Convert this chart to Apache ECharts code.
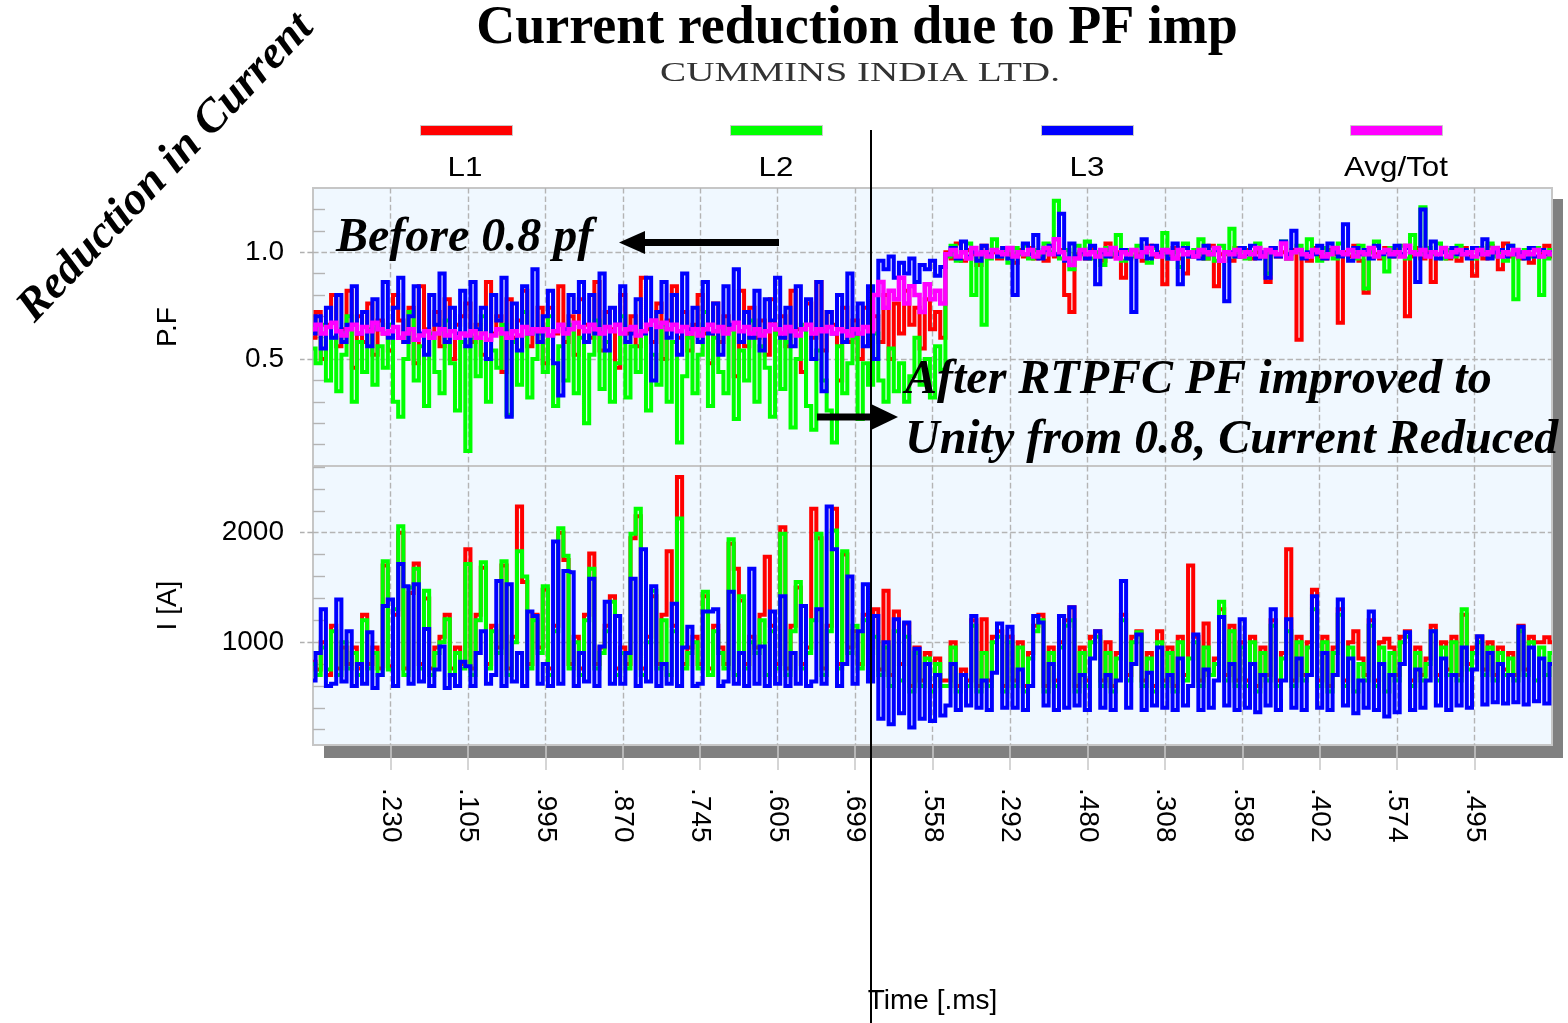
<!DOCTYPE html>
<html><head><meta charset="utf-8">
<script src="https://cdn.jsdelivr.net/npm/echarts@6/dist/echarts.min.js"></script>
<style>html,body{margin:0;padding:0;background:#fff}#c{width:1568px;height:1023px}</style>
</head><body><div id="c"></div>
<script>
const tickLabels = ['.230','.105','.995','.870','.745','.605','.699','.558','.292','.480','.308','.589','.402','.574','.495'];
const tickPos = [1,2,3,4,5,6,7,8,9,10,11,12,13,14,15];
const seriesNames = ['L1','L2','L3','Avg/Tot'];
const seriesColors = ['#ff0000','#00ff00','#0000ff','#ff00ff'];
const pfTicks = [0.5, 1.0];
const pfMinorTicks = [0.1,0.2,0.3,0.4,0.6,0.7,0.8,0.9,1.1,1.2];
const iTicks = [1000, 2000];
const iMinorTicks = [200,400,600,800,1200,1400,1600,1800,2200,2400,2600];

// P.F samples, 15 per time division
const pfL1 = [
.60,.72,.50,.66,.80,.56,.64,.82,.46,.70,.58,.76,.52,.68,.62,
.54,.80,.68,.58,.74,.48,.84,.64,.60,.72,.56,.78,.50,.66,.70,
.76,.58,.66,.52,.86,.62,.70,.44,.78,.60,.68,.82,.56,.64,.74,
.48,.74,.62,.84,.58,.70,.52,.78,.66,.60,.86,.54,.72,.64,.46,
.80,.62,.70,.56,.88,.64,.58,.76,.50,.68,.84,.60,.72,.54,.66,
.80,.62,.48,.76,.58,.70,.64,.42,.82,.56,.74,.60,.68,.52,.78,
.62,.70,.56,.82,.64,.44,.76,.60,.86,.54,.72,.66,.40,.74,.58,
.68,.50,.74,.62,.70,.58,.80,.50,.76,.62,.82,.66,.74,.55,.78,
.64,.72,.60,1.00,.97,1.04,.96,1.01,.99,.94,1.03,.98,1.00,.97,1.02,
.99,.95,1.01,.98,1.02,.97,1.00,.96,1.03,.98,1.01,.80,.72,.99,1.00,
.97,1.02,.99,.96,1.04,.98,1.00,.88,.97,1.01,.99,.96,1.03,.98,1.00,
.85,.99,1.02,.97,.90,1.00,.98,1.01,.97,1.03,.84,.99,1.00,.96,1.02,
.98,1.01,.97,1.00,.99,.86,1.02,.98,1.00,.97,1.01,.59,.99,.96,1.02,
.98,.97,1.01,.99,.67,1.00,.98,1.03,.96,.81,1.00,.99,.97,1.02,.98,
1.01,.99,.70,.98,1.02,.97,1.00,.86,.99,1.01,.97,1.00,.96,1.02,.98,
.89,1.00,.97,1.03,.99,.92,1.04,.98,1.01,.97,1.00,.95,1.02,.99,1.03,
.98];
const pfL2 = [
.55,.48,.66,.40,.60,.35,.52,.70,.30,.58,.44,.64,.38,.56,.46,
.66,.30,.23,.50,.72,.40,.56,.28,.62,.44,.34,.68,.48,.26,.58,
.07,.60,.42,.70,.30,.54,.46,.66,.24,.58,.38,.72,.32,.50,.62,
.44,.70,.28,.56,.40,.66,.34,.60,.20,.52,.68,.36,.58,.30,.48,
.70,.32,.56,.44,.62,.26,.52,.38,.66,.30,.58,.11,.42,.60,.34,
.52,.72,.28,.60,.44,.34,.64,.22,.54,.40,.68,.30,.56,.46,.23,
.62,.36,.58,.18,.50,.66,.28,.17,.54,.40,.26,.11,.56,.34,.48,
.60,.22,.48,.38,.62,.40,.30,.55,.35,.48,.30,.42,.60,.38,.50,
.32,.56,.45,.98,1.03,.96,1.00,1.04,.80,.99,.66,.97,1.06,.98,1.00,
.95,1.02,.99,1.03,.97,1.01,.98,1.04,1.00,1.24,.97,1.01,.92,1.03,.99,
1.05,.97,1.00,.94,1.02,.99,1.08,.96,1.01,.98,1.03,1.00,.95,1.02,.99,
1.09,.97,1.00,.93,1.04,.98,1.01,1.06,.97,1.00,.96,1.03,.99,1.11,.98,
1.02,.97,1.00,1.04,.98,.90,1.01,.99,1.05,.97,1.00,1.03,.98,1.06,.99,
.96,1.02,1.00,.97,1.04,.99,1.01,.97,1.03,.83,1.00,1.05,.98,.91,1.02,
.99,1.03,.97,1.08,1.00,1.21,1.02,.99,1.04,.97,1.01,.98,1.03,.99,1.00,
.97,1.02,.99,1.04,.98,1.00,.96,1.03,.78,1.00,1.01,.98,1.02,.80,.97,
1.01];
const pfL3 = [
.62,.70,.55,.74,.60,.80,.58,.66,.84,.62,.72,.56,.78,.64,.86,
.60,.74,.88,.58,.70,.84,.62,.52,.80,.66,.90,.58,.74,.62,.82,
.56,.86,.64,.74,.50,.80,.68,.88,.23,.76,.54,.84,.62,.92,.58,
.70,.82,.48,.33,.64,.80,.72,.86,.58,.80,.62,.90,.54,.74,.66,
.84,.58,.62,.78,.62,.88,.40,.72,.86,.60,.80,.52,.90,.64,.74,
.58,.86,.62,.76,.52,.84,.66,.92,.58,.72,.60,.82,.54,.78,.68,
.88,.60,.74,.56,.84,.64,.78,.50,.86,.35,.72,.62,.80,.58,.90,
.62,.76,.56,.84,.50,.96,.92,.98,.88,.95,.90,.97,.86,.94,.92,
.96,.89,.93,.99,1.02,.97,1.05,.98,1.00,.96,1.03,.99,1.01,.98,1.02,
.97,.80,1.00,1.04,.99,1.08,.97,1.01,1.03,.99,1.18,.96,1.04,.98,1.00,
.97,1.03,.85,1.00,.98,1.02,.99,1.01,.97,.72,.98,1.06,.97,1.03,.99,
1.01,.97,1.04,.85,1.02,.98,1.00,.97,1.03,.99,1.01,.96,.77,1.00,.98,
1.02,.99,1.03,.97,1.00,.88,1.02,.98,1.05,.99,1.10,1.01,.97,1.00,.99,
1.03,.97,1.04,1.00,.98,1.13,.96,1.02,.99,1.01,.97,1.03,.99,1.00,.98,
1.03,.99,1.02,1.00,.86,1.20,.99,1.05,.97,1.00,.98,1.02,.99,1.01,.97,
1.02,.99,1.06,.97,1.00,1.01,.98,1.03,.99,1.00,.97,1.02,.98,1.01,.99,
1.00];
const pfAvg = [
.64,.66,.62,.65,.67,.63,.61,.64,.66,.62,.65,.63,.67,.64,.62,
.63,.65,.60,.62,.64,.59,.61,.63,.60,.62,.64,.61,.63,.60,.62,
.61,.63,.60,.62,.59,.61,.64,.62,.60,.63,.61,.65,.62,.64,.63,
.64,.61,.63,.66,.62,.64,.67,.65,.63,.66,.64,.62,.65,.63,.66,
.62,.64,.65,.61,.63,.66,.68,.65,.67,.64,.66,.63,.65,.62,.64,
.61,.64,.66,.63,.65,.62,.64,.67,.63,.65,.62,.64,.61,.63,.66,
.64,.62,.65,.63,.61,.64,.66,.62,.64,.63,.65,.62,.64,.63,.61,
.64,.62,.65,.63,.80,.86,.74,.82,.78,.88,.76,.84,.80,.72,.85,
.78,.82,.76,.99,1.01,.98,1.00,.97,1.02,.99,1.00,.98,1.01,1.00,.99,
1.02,.98,1.00,.99,1.01,.98,1.00,1.02,.99,1.06,1.00,.97,.94,.97,1.01,
.99,1.00,.98,1.01,.99,1.02,.97,1.00,.99,1.01,.98,1.00,1.02,.99,.98,
1.01,1.00,.97,1.01,.99,1.00,.98,1.01,1.00,.99,1.02,.96,1.00,.99,1.01,
.98,1.00,.99,1.02,.98,1.01,1.00,.99,1.04,.97,1.00,1.01,.99,.98,1.01,
1.00,.98,.99,1.02,1.00,.99,1.01,.98,1.00,.99,1.02,.98,1.00,1.01,.99,
1.00,.98,1.03,1.00,.99,1.01,.98,1.00,.99,1.02,.98,1.00,1.01,.99,1.00,
.98,1.01,.99,1.00,1.02,.98,1.00,.99,1.01,.98,1.00,.99,1.01,.98,1.00,
.99];

// Current I [A] samples, 15 per time division
const iL1 = [
820,750,1000,700,1150,760,950,800,950,760,1250,800,950,760,1700,
780,1250,2000,760,1450,1720,800,1400,760,950,1050,1250,760,950,800,
1850,760,1250,1680,800,1150,950,1700,760,1050,2240,1550,800,1250,950,
1480,760,1150,2000,1750,800,1050,760,1250,1810,800,950,1150,1420,760,
950,800,1950,2150,760,1050,1420,800,1250,1830,1150,2510,800,950,1050,
800,1420,760,1150,950,800,1900,1670,1380,800,1050,950,1250,1780,1150,
800,2050,760,1150,1500,800,950,2220,1950,760,1150,2220,800,1800,950,
1100,800,1250,950,1300,750,1470,700,1280,800,1170,600,950,650,900,
600,850,650,650,1000,600,750,650,1200,600,1210,650,1050,1100,600,
1050,650,1000,600,900,1150,1250,600,950,650,1000,1200,1320,600,950,
650,1050,1100,650,1000,600,900,1250,700,1050,1100,650,900,600,1100,
650,950,600,1050,700,1700,1050,650,1170,700,850,1300,700,1150,650,
1000,650,1050,600,950,700,1200,650,900,1850,650,1050,700,1000,1480,
650,1050,600,950,1300,650,1000,1100,850,700,1200,650,1000,1030,950,
700,1050,1100,650,950,700,850,1150,700,1000,750,1050,700,1250,800,
950,1050,750,1000,700,950,750,900,700,1150,750,1050,1000,1000,1045,
1000];
const iL2 = [
800,700,950,750,1100,700,1000,760,900,700,1200,760,900,700,1740,
750,1300,2060,700,1500,1670,760,1470,700,900,1000,1210,700,900,760,
1715,700,1200,1730,760,1100,900,1740,700,1000,1830,1600,760,1200,900,
1510,700,1100,2040,1790,760,1000,700,1200,1670,760,900,1100,1370,700,
900,760,1990,2220,700,1000,1470,760,1200,700,1100,2130,760,900,1000,
760,1460,700,1100,900,760,1940,700,1420,760,1000,900,1200,700,1100,
760,1990,700,1100,1550,760,900,1200,1990,700,1100,2020,760,1830,900,
1150,760,1200,900,1050,700,950,600,1100,650,1050,550,900,600,850,
550,800,600,600,950,550,700,600,1150,550,900,600,1000,1050,550,
1000,600,950,550,850,1100,1200,550,900,600,950,1150,1200,550,900,
600,1000,1050,600,900,550,850,1200,650,1000,1090,600,850,550,1000,
600,900,550,1000,650,850,1000,600,950,700,800,1370,650,1100,600,
950,600,1000,550,900,650,1150,600,850,1100,600,1000,650,950,1300,
600,1000,550,900,1250,600,950,550,800,650,1150,600,950,550,900,
650,1000,1050,600,900,650,800,1100,650,950,700,1000,650,1300,750,
900,1000,700,950,650,900,700,850,650,1100,700,1000,650,950,700,
900];
const iL3 = [
650,900,1300,600,620,1390,640,1100,600,800,620,1090,580,700,1330,
1390,600,1715,1510,620,1530,640,1120,600,750,960,580,700,600,820,
780,600,900,1100,620,700,1560,600,1530,640,900,600,1280,1240,620,
800,600,1920,620,1650,1640,600,900,640,1580,600,960,1370,620,1240,
620,900,1580,600,1850,640,1510,600,800,620,1350,600,950,1140,600,
620,1280,1280,1300,600,640,1460,620,900,600,1670,620,960,600,1280,
620,1420,600,900,620,1330,600,640,1300,620,2240,1850,600,800,1600,
620,1100,1530,640,1240,300,1000,250,1210,350,1180,220,940,300,800,
280,700,330,420,800,380,700,420,1240,400,650,380,720,1170,400,
1140,400,750,380,600,1240,1180,420,800,380,1240,400,1320,420,700,
380,850,1100,400,700,380,650,1560,400,800,1070,380,720,420,950,
400,700,380,850,420,600,1070,380,750,400,650,1230,420,800,380,
1210,400,800,360,700,420,1300,380,650,1210,400,850,380,700,1420,
400,900,380,700,1390,420,850,350,650,400,1280,380,800,320,700,
360,800,1090,380,750,400,650,1100,420,850,380,700,420,950,400,
750,1055,430,900,450,800,440,700,450,1140,430,950,460,850,440,
800];

const X_SPAN = 16;
function pts(arr){ const n = arr.length; return arr.map((v,i)=>[i*X_SPAN/(n-1), v]); }
function mk(name, color, data, gi, yi, w){
  return {name, type:'line', xAxisIndex:gi, yAxisIndex:yi, data:pts(data), step:'middle',
    symbol:'none', showSymbol:false, color, lineStyle:{color, width:w, join:'miter'}, itemStyle:{color},
    animation:false, silent:true};
}
const SANS = 'Liberation Sans', SERIF = 'Liberation Serif';
const gridLine = {show:true, lineStyle:{color:'#b4b4b4', type:'dashed', width:1.4}};
const axisFont = {fontSize:28, fontFamily:SANS, color:'#000'};

const chart = echarts.init(document.getElementById('c'));
const legendLefts = [420, 730, 1041, 1350];
chart.setOption({
  animation:false,
  backgroundColor:'#ffffff',
  title:{text:'Current reduction due to PF imp', left:857, top:2, padding:0, textAlign:'center',
    textStyle:{fontFamily:SERIF, fontWeight:'bold', fontSize:54, color:'#000'}},
  legend: seriesNames.map((n,k)=>({data:[n], left:legendLefts[k], top:125, padding:0, icon:'rect',
    itemWidth:92, itemHeight:10, selectedMode:false, formatter:()=>'', itemStyle:{borderColor:'#c8c8c8', borderWidth:1}})),
  grid:[
    {left:313, top:188, width:1239, height:278, show:true, backgroundColor:'#f0f8ff', borderColor:'#c6c6c6', borderWidth:2},
    {left:313, top:466, width:1239, height:279, show:true, backgroundColor:'#f0f8ff', borderColor:'#c6c6c6', borderWidth:2}
  ],
  xAxis:[
    {gridIndex:0, type:'value', min:0, max:X_SPAN, interval:1, axisLine:{show:false},
      axisTick:{show:false, customValues:tickPos}, axisLabel:{show:false}, splitLine:gridLine},
    {gridIndex:1, type:'value', min:0, max:X_SPAN, interval:1, axisLine:{show:false},
      axisTick:{show:true, length:25, customValues:tickPos, lineStyle:{color:'#c8c8c8', width:1.5}},
      axisLabel:Object.assign({show:true, customValues:tickPos, rotate:-90, margin:43,
        formatter:v=>tickLabels[Math.round(v)-1] || ''}, axisFont),
      splitLine:gridLine,
      name:'Time [.ms]', nameLocation:'middle', nameGap:242, nameTextStyle:axisFont}
  ],
  yAxis:[
    {gridIndex:0, type:'value', min:0, max:1.3, position:'left', name:'P.F', nameLocation:'middle', nameGap:131,
      nameTextStyle:axisFont, axisLine:{show:false},
      axisTick:{show:true, length:13, customValues:pfTicks, lineStyle:{color:'#b0b0b0', type:'dashed', width:1.4}},
      axisLabel:Object.assign({customValues:pfTicks, formatter:v=>v.toFixed(1), margin:29}, axisFont),
      splitLine:gridLine},
    {gridIndex:0, type:'value', min:0, max:1.3, position:'left', axisLine:{show:false}, axisLabel:{show:false},
      splitLine:{show:false}, axisTick:{show:true, inside:true, length:12, customValues:pfMinorTicks, lineStyle:{color:'#b4b4b4', width:1.4}}},
    {gridIndex:1, type:'value', min:60, max:2610, position:'left', name:'I [A]', nameLocation:'middle', nameGap:131,
      nameTextStyle:axisFont, axisLine:{show:false},
      axisTick:{show:true, length:13, customValues:iTicks, lineStyle:{color:'#b0b0b0', type:'dashed', width:1.4}},
      axisLabel:Object.assign({customValues:iTicks, formatter:v=>String(Math.round(v)), margin:29}, axisFont),
      splitLine:gridLine},
    {gridIndex:1, type:'value', min:60, max:2610, position:'left', axisLine:{show:false}, axisLabel:{show:false},
      splitLine:{show:false}, axisTick:{show:true, inside:true, length:12, customValues:iMinorTicks, lineStyle:{color:'#b4b4b4', width:1.4}}}
  ],
  series:[
    mk(seriesNames[0], seriesColors[0], pfL1, 0, 0, 4),
    mk(seriesNames[1], seriesColors[1], pfL2, 0, 0, 4),
    mk(seriesNames[2], seriesColors[2], pfL3, 0, 0, 4),
    mk(seriesNames[3], seriesColors[3], pfAvg, 0, 0, 4.5),
    mk(seriesNames[0], seriesColors[0], iL1, 1, 2, 4),
    mk(seriesNames[1], seriesColors[1], iL2, 1, 2, 4),
    mk(seriesNames[2], seriesColors[2], iL3, 1, 2, 4)
  ],
  graphic:[
    {type:'rect', z:-10, shape:{x:324, y:199, width:1239, height:559}, style:{fill:'#808080'}},
    {type:'text', x:465, y:168, scaleX:1.12, z:50, style:{text:'L1', font:'28px "Liberation Sans"', fill:'#000', align:'center', verticalAlign:'middle'}},
    {type:'text', x:776, y:168, scaleX:1.12, z:50, style:{text:'L2', font:'28px "Liberation Sans"', fill:'#000', align:'center', verticalAlign:'middle'}},
    {type:'text', x:1087, y:168, scaleX:1.12, z:50, style:{text:'L3', font:'28px "Liberation Sans"', fill:'#000', align:'center', verticalAlign:'middle'}},
    {type:'text', x:1396, y:168, scaleX:1.12, z:50, style:{text:'Avg/Tot', font:'28px "Liberation Sans"', fill:'#000', align:'center', verticalAlign:'middle'}},
    {type:'text', x:860, y:74, scaleX:1.45, z:50, style:{text:'CUMMINS INDIA LTD.', font:'27px "Liberation Serif"', fill:'#333', align:'center', verticalAlign:'middle'}},
    {type:'text', x:166, y:168, rotation:0.81, z:50, style:{text:'Reduction in Current', font:'italic bold 46px "Liberation Serif"', fill:'#000', align:'center', verticalAlign:'middle'}},
    {type:'text', x:336, y:239, z:50, style:{text:'Before 0.8 pf', font:'italic bold 48px "Liberation Serif"', fill:'#000', align:'left', verticalAlign:'middle'}},
    {type:'text', x:905, y:381, z:50, style:{text:'After RTPFC PF improved to', font:'italic bold 48px "Liberation Serif"', fill:'#000', align:'left', verticalAlign:'middle'}},
    {type:'text', x:905, y:441, z:50, style:{text:'Unity from 0.8, Current Reduced', font:'italic bold 48px "Liberation Serif"', fill:'#000', align:'left', verticalAlign:'middle'}},
    {type:'rect', z:50, shape:{x:640, y:239, width:139, height:7}, style:{fill:'#000'}},
    {type:'polygon', z:50, shape:{points:[[619,242.5],[645,231],[645,254]]}, style:{fill:'#000'}},
    {type:'rect', z:50, shape:{x:817, y:413.5, width:58, height:7}, style:{fill:'#000'}},
    {type:'polygon', z:50, shape:{points:[[898,417],[871,404],[871,430]]}, style:{fill:'#000'}},
    {type:'line', z:60, shape:{x1:871, y1:130, x2:871, y2:1023}, style:{stroke:'#000', lineWidth:2}}
  ]
});
</script>
</body></html>
